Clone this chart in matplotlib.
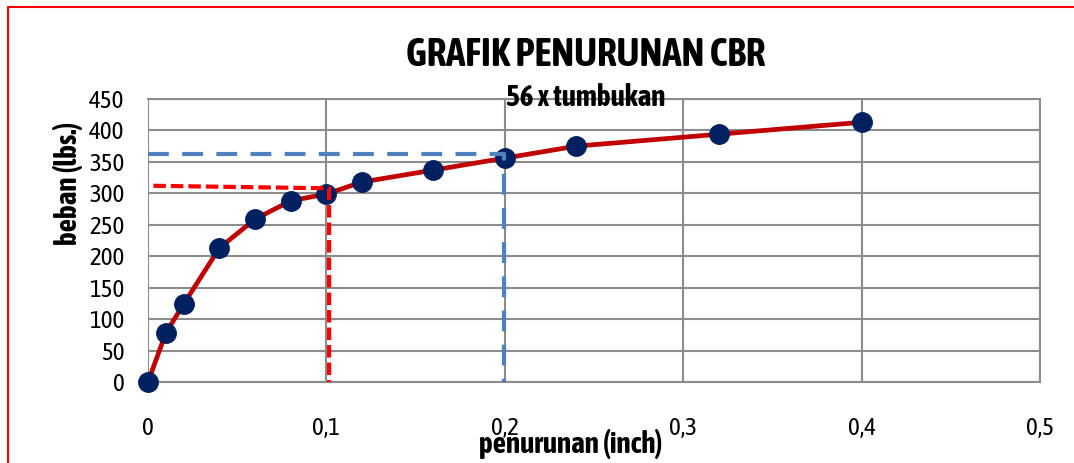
import matplotlib.pyplot as plt
from matplotlib import font_manager
from matplotlib.patches import Rectangle

# pick a narrow font that has a bold face, else Liberation Sans
fonts = font_manager.fontManager.ttflist
narrow = sorted({f.name for f in fonts if ('Narrow' in f.name or 'Condensed' in f.name)})
bold_narrow = sorted({f.name for f in fonts if f.name in narrow and
                      (f.weight in ('bold', 700) or (isinstance(f.weight, int) and f.weight >= 700))})
family = (bold_narrow or narrow or ['Liberation Sans'])[0]
plt.rcParams['font.family'] = [family, 'DejaVu Sans']

# data
penurunan = [0, 0.01, 0.02, 0.04, 0.06, 0.08, 0.10, 0.12, 0.16, 0.20, 0.24, 0.32, 0.40]
beban = [0, 78, 124, 213, 259, 288, 299, 318, 337, 356, 375, 394, 413]

# helper lines for the 0.1" and 0.2" readings
red_x = [0.003, 0.1015, 0.1015]
red_y = [312, 308, 0]
blue_x = [0, 0.1995, 0.1995]
blue_y = [362, 362, 0]

xticks = [0, 0.1, 0.2, 0.3, 0.4, 0.5]
xticklabels = ['0', '0,1', '0,2', '0,3', '0,4', '0,5']
yticks = list(range(0, 451, 50))

W, H = 1074, 463
fig = plt.figure(figsize=(W / 100, H / 100), dpi=100)
ax = fig.add_axes([148 / W, 1 - 382 / H, (1040 - 148) / W, (382 - 99) / H])

ax.plot(penurunan, beban, color='#C00000', lw=3.4, zorder=3)
ax.plot(penurunan, beban, ls='none', marker='o', ms=14, color='#002060', zorder=4, clip_on=False)
ax.plot(red_x, red_y, color='#FF0000', lw=3, ls=(0, (3, 1.2)), zorder=5)
ax.plot(blue_x, blue_y, color='#4F81BD', lw=3, ls=(0, (5, 3.2)), zorder=5)

ax.set_xlim(0, 0.5)
ax.set_ylim(0, 450)
ax.set_xticks(xticks)
ax.set_xticklabels(xticklabels)
ax.set_yticks(yticks)
ax.tick_params(length=0, labelsize=18)
ax.tick_params(axis='x', pad=25)
ax.tick_params(axis='y', pad=17)
ax.grid(True, color='#8c8c8c', lw=1.5)
ax.set_axisbelow(True)
for s in ax.spines.values():
    s.set_color('#8c8c8c')
    s.set_linewidth(1.5)
ax.spines['left'].set_visible(False)

fig.text(586 / W, 1 - 55 / H, 'GRAFIK PENURUNAN CBR', ha='center', va='center',
         fontsize=28, fontweight='bold')
fig.text(586 / W, 1 - 97 / H, '56 x tumbukan', ha='center', va='center',
         fontsize=21, fontweight='bold')
fig.text(68 / W, 1 - 183 / H, 'beban (lbs.)', ha='center', va='center',
         rotation=90, fontsize=21, fontweight='bold')
fig.text(571 / W, 1 - 444 / H, 'penurunan (inch)', ha='center', va='center',
         fontsize=21, fontweight='bold')

# red frame around the chart
fig.patches.append(Rectangle((8 / W, -0.1), 1.2, 1 - 7 / H + 0.1, transform=fig.transFigure,
                             fill=False, edgecolor='#FF0000', lw=1.5))

fig.savefig('out.png', dpi=100)
